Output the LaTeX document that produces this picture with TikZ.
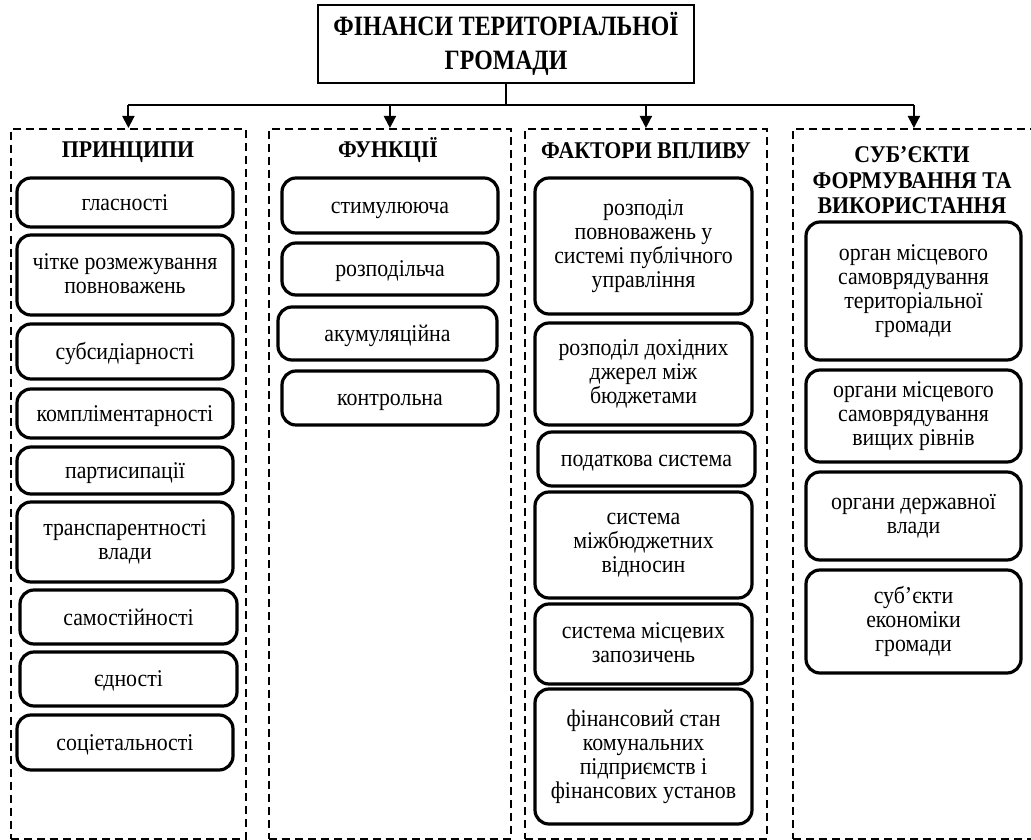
\documentclass[tikz,border=0pt]{standalone}
\usepackage{fontspec}
\setmainfont{Liberation Serif}[FakeStretch=0.91]
\newfontfamily\titlefont{Liberation Serif}[FakeStretch=0.85]
\usetikzlibrary{arrows.meta}
\newcommand\bxstrut{\rule[-3.5pt]{0pt}{24pt}}
\newcommand\ttstrut{\rule[-1.5pt]{0pt}{29.5pt}}
\begin{document}
\begin{tikzpicture}[x=1pt,y=-1pt,
  rbox/.style={draw, line width=3.2pt, rounded corners=14pt, align=center, inner sep=2pt,
    font=\fontsize{24}{24}\selectfont, execute at begin node=\bxstrut, execute at end node=\bxstrut},
  dbox/.style={draw, line width=1.8pt, dash pattern=on 8pt off 5pt, inner sep=0pt},
  head/.style={font=\fontsize{24}{25.5}\selectfont\bfseries, align=center,
    execute at begin node=\bxstrut, execute at end node=\bxstrut},
  titlebox/.style={draw, line width=1.2pt, align=center, font=\titlefont\fontsize{28}{34}\selectfont\bfseries,
    execute at begin node=\ttstrut, execute at end node=\ttstrut},
  conn/.style={line width=2pt},
  arr/.style={line width=2pt, -{Triangle[width=12pt,length=12pt]}}
]
\useasboundingbox (0,0) rectangle (1031,840);

% title
\node[titlebox, minimum width=376, minimum height=78] (title) at (506,44) {ФІНАНСИ ТЕРИТОРІАЛЬНОЇ\\ГРОМАДИ};

% dashed containers
\node[dbox, minimum width=235, minimum height=710, anchor=north west] (c1) at (10,128) {};
\node[dbox, minimum width=242, minimum height=710, anchor=north west] (c2) at (268,128) {};
\node[dbox, minimum width=242, minimum height=710, anchor=north west] (c3) at (524,128) {};
\node[dbox, minimum width=242, minimum height=710, anchor=north west] (c4) at (792,128) {};

% connectors
\coordinate (bus) at (506,105);
\draw[conn] (title.south) -- (bus);
\draw[conn] (c1.north |- bus) -- (c4.north |- bus);
\foreach \c in {c1,c2,c3,c4} \draw[arr] (\c.north |- bus) -- (\c.north);

% headings
\node[head] (h1) at (128,149.5) {ПРИНЦИПИ};
\node[head] (h2) at (388,149.5) {ФУНКЦІЇ};
\node[head] (h3) at (646,149.5) {ФАКТОРИ ВПЛИВУ};
\node[head] (h4) at (912,182) {СУБ’ЄКТИ\\ФОРМУВАННЯ ТА\\ВИКОРИСТАННЯ};

% column 1
\node[rbox, minimum width=216, minimum height=49] (p1) at (125,202.5) {гласності};
\node[rbox, minimum width=216, minimum height=80] (p2) at (125,275) {чітке розмежування\\повноважень};
\node[rbox, minimum width=216, minimum height=55] (p3) at (125,351.5) {субсидіарності};
\node[rbox, minimum width=216, minimum height=49] (p4) at (125,413.5) {компліментарності};
\node[rbox, minimum width=216, minimum height=47] (p5) at (125,470.5) {партисипації};
\node[rbox, minimum width=216, minimum height=80] (p6) at (125,542) {транспарентності\\влади};
\node[rbox, minimum width=217, minimum height=54] (p7) at (128.5,617) {самостійності};
\node[rbox, minimum width=217, minimum height=54] (p8) at (128.5,679) {єдності};
\node[rbox, minimum width=216, minimum height=55] (p9) at (125,742.5) {соціетальності};

% column 2
\node[rbox, minimum width=216, minimum height=55] (f1) at (390,205.5) {стимулююча};
\node[rbox, minimum width=216, minimum height=52] (f2) at (390,269) {розподільча};
\node[rbox, minimum width=219, minimum height=53] (f3) at (387.5,333.5) {акумуляційна};
\node[rbox, minimum width=216, minimum height=54] (f4) at (390,398) {контрольна};

% column 3
\node[rbox, minimum width=217, minimum height=136] (k1) at (643.5,246) {розподіл\\повноважень у\\системі публічного\\управління};
\node[rbox, minimum width=217, minimum height=102] (k2) at (643.5,374) {розподіл дохідних\\джерел між\\бюджетами};
\node[rbox, minimum width=217, minimum height=54] (k3) at (646.5,459) {податкова система};
\node[rbox, minimum width=217, minimum height=106] (k4) at (643.5,545) {система\\міжбюджетних\\відносин};
\node[rbox, minimum width=217, minimum height=80] (k5) at (643.5,644) {система місцевих\\запозичень};
\node[rbox, minimum width=217, minimum height=135] (k6) at (643.5,756.5) {фінансовий стан\\комунальних\\підприємств і\\фінансових установ};

% column 4
\node[rbox, minimum width=215, minimum height=138] (s1) at (913.5,291) {орган місцевого\\самоврядування\\територіальної\\громади};
\node[rbox, minimum width=215, minimum height=92] (s2) at (913.5,416) {органи місцевого\\самоврядування\\вищих рівнів};
\node[rbox, minimum width=215, minimum height=88] (s3) at (913.5,516) {органи державної\\влади};
\node[rbox, minimum width=215, minimum height=103] (s4) at (913.5,621.5) {суб’єкти\\економіки\\громади};
\end{tikzpicture}
\end{document}
